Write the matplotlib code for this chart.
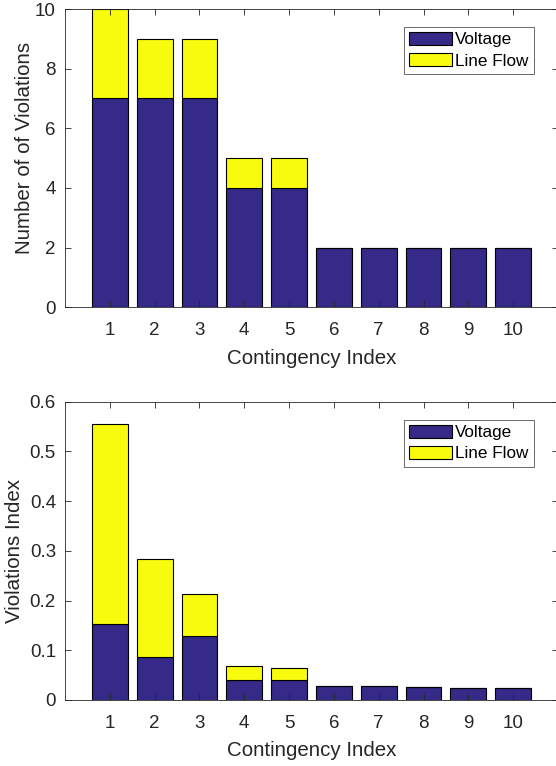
import matplotlib
matplotlib.use("Agg")
import matplotlib.pyplot as plt
import numpy as np

plt.rcParams['font.family'] = ['Liberation Sans', 'DejaVu Sans']

contingency = [1, 2, 3, 4, 5, 6, 7, 8, 9, 10]
count_voltage = [7, 7, 7, 4, 4, 2, 2, 2, 2, 2]
count_lineflow = [3, 2, 2, 1, 1, 0, 0, 0, 0, 0]
index_voltage = [0.152, 0.087, 0.128, 0.0395, 0.0395, 0.0287, 0.0287, 0.026, 0.0233, 0.0233]
index_total = [0.555, 0.284, 0.213, 0.068, 0.065, 0.0287, 0.0287, 0.026, 0.0233, 0.0233]
index_lineflow = [t - v for t, v in zip(index_total, index_voltage)]
legend_labels = ["Voltage", "Line Flow"]

c_blue = "#352a87"
c_yellow = "#f9fb0e"
spine_c = "#262626"
FS = 13.5
LFS = 14.8

fig = plt.figure(figsize=(5.56, 7.66), dpi=100)
W, H = 556, 766

def make_ax(top_px, bot_px):
    left, right = 65, 558
    return fig.add_axes([left / W, 1 - bot_px / H, (right - left) / W, (bot_px - top_px) / H])

ax1 = make_ax(9, 307.3)
ax2 = make_ax(401.7, 700)

def style(ax):
    ax.tick_params(direction='in', top=True, right=True, length=4, width=0.6,
                   color=spine_c, labelsize=FS, labelcolor=spine_c)
    ax.tick_params(axis='x', pad=10.5)
    ax.tick_params(axis='y', pad=6.5)
    for s in ax.spines.values():
        s.set_color(spine_c)
        s.set_linewidth(0.6)
    ax.set_xlim(0, 11)
    ax.set_xticks(contingency)
    ax.set_xlabel("Contingency Index", fontsize=LFS, color=spine_c, labelpad=7)

x = np.array(contingency)
ax1.bar(x, count_voltage, width=0.8, color=c_blue, edgecolor='black', linewidth=0.8, label=legend_labels[0])
ax1.bar(x, count_lineflow, width=0.8, bottom=count_voltage, color=c_yellow, edgecolor='black', linewidth=0.8, label=legend_labels[1])
style(ax1)
ax1.set_ylim(0, 10)
ax1.set_yticks([0, 2, 4, 6, 8, 10])
ax1.set_ylabel("Number of of Violations", fontsize=LFS, color=spine_c, labelpad=1)
ax1.yaxis.label.set_y(0.534)

ax2.bar(x, index_voltage, width=0.8, color=c_blue, edgecolor='black', linewidth=0.8, label=legend_labels[0])
ax2.bar(x, index_lineflow, width=0.8, bottom=index_voltage, color=c_yellow, edgecolor='black', linewidth=0.8, label=legend_labels[1])
style(ax2)
ax2.set_ylim(0, 0.6)
ax2.set_yticks([0, 0.1, 0.2, 0.3, 0.4, 0.5, 0.6])
ax2.set_yticklabels(["0", "0.1", "0.2", "0.3", "0.4", "0.5", "0.6"])
ax2.set_ylabel("Violations Index", fontsize=LFS, color=spine_c, labelpad=4)

for ax in (ax1, ax2):
    leg = ax.legend(loc='upper right', bbox_to_anchor=(0.951, 0.94), borderaxespad=0,
                    fontsize=12.3, frameon=True, fancybox=False, handlelength=2.5,
                    handleheight=0.78, handletextpad=0.2, borderpad=0.3, labelspacing=0.35,
                    edgecolor=spine_c)
    leg.get_frame().set_linewidth(0.6)

fig.savefig("out.png", dpi=100)
